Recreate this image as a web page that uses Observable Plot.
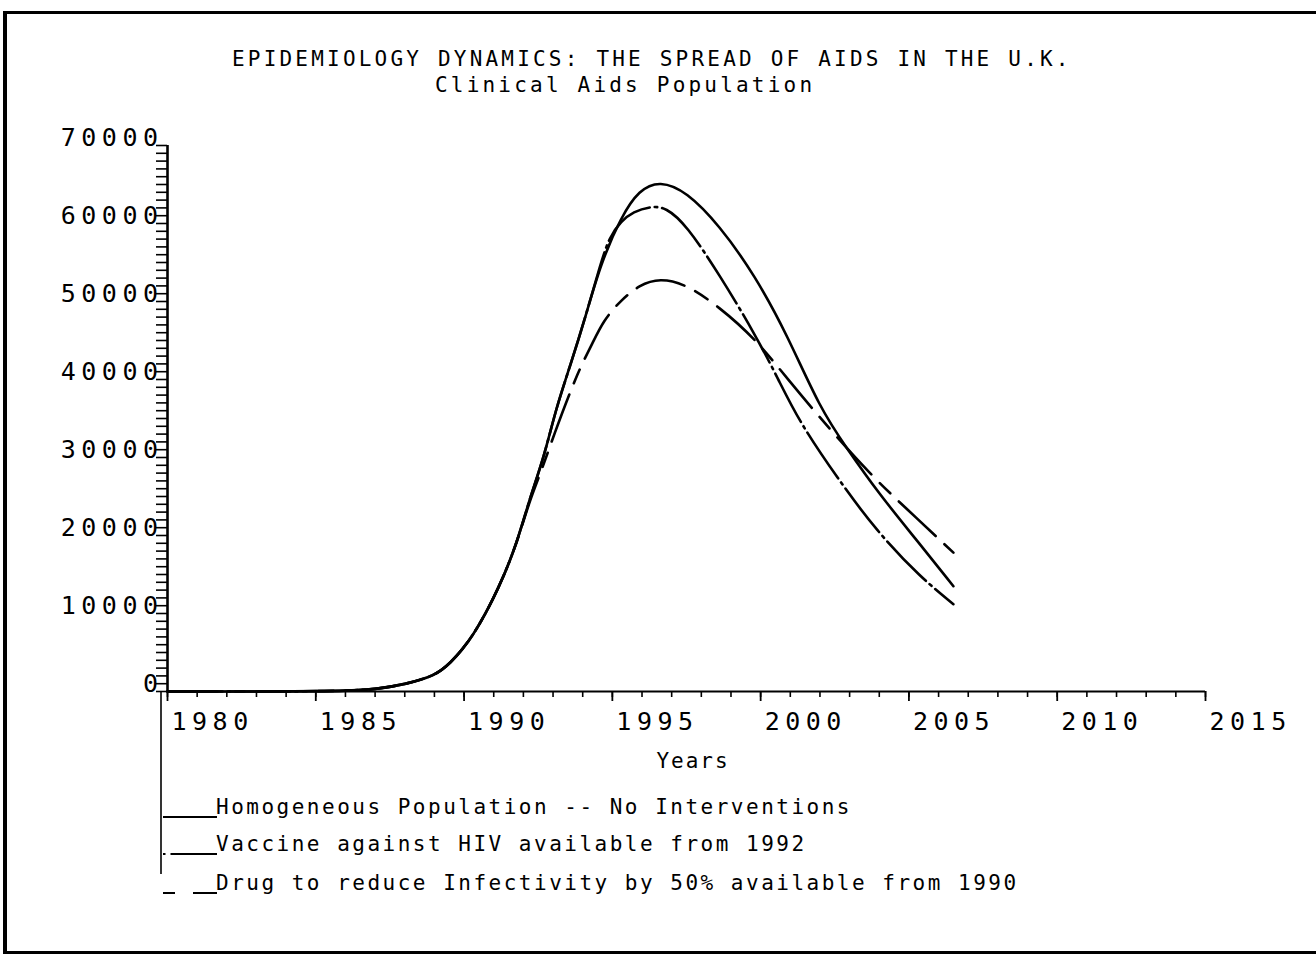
<!DOCTYPE html>
<html>
<head>
<meta charset="utf-8">
<script src="https://cdn.jsdelivr.net/npm/d3@7"></script>
<script src="https://cdn.jsdelivr.net/npm/@observablehq/plot@0.6"></script>
<style>
  html, body { margin: 0; padding: 0; background: #fff; }
  #page { position: relative; width: 1316px; height: 954px; overflow: hidden; background: #fff; }
  #page svg { position: absolute; left: 0; top: 0; }
  .frame { position: absolute; left: 3px; top: 11px; width: 1330px; height: 937px;
           border-top: 3px solid #000; border-left: 4px solid #000; border-bottom: 3px solid #000; }
</style>
</head>
<body>
<div id="page"><div class="frame"></div></div>
<script>
// ---------- data ----------
const titleText = "EPIDEMIOLOGY DYNAMICS: THE SPREAD OF AIDS IN THE U.K.";
const subtitleText = "Clinical Aids Population";
const xAxisTitle = "Years";

const xTickLabels = [1980, 1985, 1990, 1995, 2000, 2005, 2010, 2015];
const yTickLabels = [0, 10000, 20000, 30000, 40000, 50000, 60000, 70000];

// Homogeneous population -- no interventions (solid)
const yearsNoInt  = [1980, 1984, 1985, 1986, 1987, 1988, 1989, 1989.5, 1990.3, 1991.2, 1991.8, 1992.2, 1992.7, 1993.1, 1993.6, 1994.1, 1994.6, 1995.3, 1995.9, 1996.6, 1997.5, 1998.6, 1999.8, 2000.9, 2002.0, 2002.9, 2004.0, 2005.2, 2006.5];
const valuesNoInt = [0, 0, 40, 100, 260, 900, 2000, 3450, 6900, 13400, 19200, 24600, 30100, 36300, 42000, 48100, 54800, 60900, 64300, 65500, 64100, 59800, 53400, 45700, 36300, 31200, 25300, 19700, 13500];

// Vaccine against HIV available from 1992 (dash-dot)
const yearsVaccine  = [1980, 1984, 1985, 1986, 1987, 1988, 1989, 1989.5, 1990.3, 1991.2, 1991.8, 1992.2, 1992.7, 1993.1, 1993.6, 1994.1, 1994.6, 1994.9, 1995.3, 1995.7, 1996.3, 1996.8, 1997.5, 1998.6, 1999.8, 2000.6, 2001.3, 2002.6, 2003.9, 2005.4, 2006.5];
const valuesVaccine = [0, 0, 40, 100, 260, 900, 2000, 3450, 6900, 13400, 19200, 24600, 30100, 36300, 42000, 48100, 54800, 58300, 60300, 61500, 62200, 62100, 59800, 53500, 45900, 40000, 34600, 27300, 20600, 14600, 11200];

// Drug to reduce infectivity by 50% available from 1990 (dashed)
const yearsDrug  = [1980, 1984, 1985, 1986, 1987, 1988, 1989, 1989.5, 1990.3, 1991.2, 1991.8, 1992.2, 1992.6, 1993.0, 1993.8, 1994.3, 1994.7, 1995.3, 1995.9, 1996.6, 1997.5, 1998.6, 1999.8, 2000.9, 2002.2, 2003.7, 2004.9, 2006.5];
const valuesDrug = [0, 0, 40, 100, 260, 900, 2000, 3450, 6900, 13400, 19200, 24400, 28200, 32600, 40700, 44400, 47600, 50200, 52100, 53000, 52200, 49300, 45300, 40100, 34200, 27800, 23500, 17800];

const legendLabels = [
  "Homogeneous Population -- No Interventions",
  "Vaccine against HIV available from 1992",
  "Drug to reduce Infectivity by 50% available from 1990"
];

// ---------- styles ----------
const FONT = '"DejaVu Sans Mono", "Liberation Mono", monospace';
const seriesDash = [null, "55,5,2.5,5", "50,12,15,12"];
const legendDash = [null, "2.5,5,60", "12,18,40"];

const toRows = (ys, vs) => ys.map((y, i) => ({year: y, value: vs[i]}));
const noInt = toRows(yearsNoInt, valuesNoInt);
const vaccine = toRows(yearsVaccine, valuesVaccine);
const drug = toRows(yearsDrug, valuesDrug);

const minorYears = d3.range(1980, 2016, 1);
const minorVals = d3.range(0, 70001, 1000);

const chart = Plot.plot({
  width: 1316,
  height: 760,
  marginLeft: 167,
  marginRight: 111,
  marginTop: 145,
  marginBottom: 69,
  x: {domain: [1980, 2015]},
  y: {domain: [0, 70000]},
  style: {fontFamily: FONT, color: "#000", background: "transparent", overflow: "visible", letterSpacing: "5.5px"},
  marks: [
    // x-axis ticks
    Plot.axisX(minorYears, {tickSize: 6, strokeWidth: 1.6, tickFormat: () => "", label: null}),
    Plot.axisX(xTickLabels, {tickSize: 10, strokeWidth: 1.8, tickFormat: () => "", label: null}),
    Plot.axisX(xTickLabels, {tickSize: 0, tickPadding: 21, fontSize: 25, textAnchor: "start", dx: 4, tickFormat: d => String(d), label: null}),
    // y-axis comb and labels
    Plot.axisY(minorVals, {tickSize: 11, strokeWidth: 1.6, tickFormat: () => "", label: null}),
    Plot.axisY(yTickLabels, {tickSize: 0, tickPadding: 4, fontSize: 25, dy: -8, tickFormat: d => String(d), label: null}),
    Plot.ruleY([0], {stroke: "#000", strokeWidth: 2.2}),
    Plot.ruleX([1980], {stroke: "#000", strokeWidth: 2.6}),
    // series
    Plot.line(drug, {x: "year", y: "value", stroke: "#000", strokeWidth: 2.6, strokeDasharray: seriesDash[2], curve: "basis"}),
    Plot.line(vaccine, {x: "year", y: "value", stroke: "#000", strokeWidth: 2.6, strokeDasharray: seriesDash[1], curve: "basis"}),
    Plot.line(noInt, {x: "year", y: "value", stroke: "#000", strokeWidth: 2.6, curve: "basis"})
  ]
});
document.getElementById("page").appendChild(chart);

// ---------- titles and legend overlay ----------
const ov = d3.select("#page").append("svg")
  .attr("width", 1316).attr("height", 954)
  .style("pointer-events", "none")
  .style("font-family", FONT);

ov.append("text").attr("x", 232).attr("y", 66)
  .attr("font-size", 21).attr("letter-spacing", "3.2px").attr("fill", "#000")
  .text(titleText);
ov.append("text").attr("x", 435).attr("y", 92)
  .attr("font-size", 21).attr("letter-spacing", "3.2px").attr("fill", "#000")
  .text(subtitleText);
ov.append("text").attr("x", 693).attr("y", 768).attr("text-anchor", "middle")
  .attr("font-size", 21).attr("letter-spacing", "2px").attr("fill", "#000")
  .text(xAxisTitle);

// legend bracket line (continuation of the y-axis)
ov.append("line").attr("x1", 161).attr("x2", 161).attr("y1", 691).attr("y2", 874)
  .attr("stroke", "#000").attr("stroke-width", 1.6);

const rowBase = [814, 851, 890];
legendLabels.forEach((lab, i) => {
  const yb = rowBase[i];
  const sw = ov.append("line").attr("x1", 163).attr("x2", 217)
    .attr("y1", yb + 3).attr("y2", yb + 3)
    .attr("stroke", "#000").attr("stroke-width", 2.2);
  if (legendDash[i]) sw.attr("stroke-dasharray", legendDash[i]);
  ov.append("text").attr("x", 216).attr("y", yb)
    .attr("font-size", 21).attr("letter-spacing", "2.5px").attr("fill", "#000")
    .text(lab);
});
</script>
</body>
</html>
